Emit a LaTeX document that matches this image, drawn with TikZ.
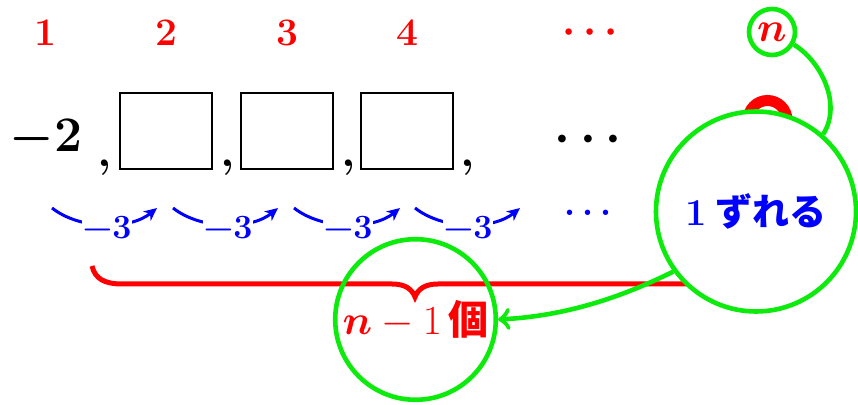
\documentclass[tikz,border=0pt]{standalone}
\usepackage{bm}
\usepackage{fontspec}
\newfontfamily\cjk{Noto Sans CJK JP}
\usetikzlibrary{arrows.meta}
\definecolor{grn}{RGB}{12,235,12}
\newcommand{\myfs}[1]{\fontsize{#1}{#1}\selectfont}
\begin{document}
\begin{tikzpicture}[x=0.5pt,y=-0.5pt,
  idx/.style={text=red,font=\myfs{19.5}\bfseries\boldmath},
  term/.style={font=\myfs{23}\bfseries\boldmath},
  cell/.style={draw,line width=1pt,minimum width=46pt,minimum height=38pt,inner sep=0pt},
  diff/.style={text=blue,font=\myfs{17}\bfseries,fill=white,inner sep=0.5pt},
  hop/.style={blue,line width=1.5pt,-{Stealth[length=6.5pt,width=6pt,inset=2pt]}},
  ring/.style={circle,draw=grn,line width=2.3pt,inner sep=0pt},
]
\useasboundingbox (0,0) rectangle (858,405);
% indices
\node[idx] (i1) at (45,33) {1};
\node[idx] (i2) at (166,33) {2};
\node[idx] (i3) at (287,33) {3};
\node[idx] (i4) at (407,33) {4};
\node[idx,anchor=base,font=\myfs{20}\bfseries\boldmath] (idots) at (590,43) {$\cdots$};
\node[ring,minimum size=23pt,text=red,font=\myfs{20}\boldmath] (nn) at (772,32) {$n$};
% terms
\node[term] (t1) at (46,139) {$-2$};
\node[term,anchor=base] (c1) at (105,167) {,};
\node[cell] (b1) at (166,131) {};
\node[term,anchor=base] (c2) at (228,167) {,};
\node[cell] (b2) at (287,131) {};
\node[term,anchor=base] (c3) at (349,167) {,};
\node[cell] (b3) at (407,131) {};
\node[term,anchor=base] (c4) at (468,167) {,};
\node[term,anchor=base,font=\myfs{30}\bfseries\boldmath] (tdots) at (588,152) {$\cdots$};
% differences
\coordinate (s1) at (52,208); \coordinate (e1) at (157,208);
\coordinate (s2) at (173,208); \coordinate (e2) at (278,208);
\coordinate (s3) at (294,208); \coordinate (e3) at (400,208);
\coordinate (s4) at (415,208); \coordinate (e4) at (520,208);
\draw[hop] (s1) .. controls (80,230) and (130,230) .. (e1);
\draw[hop] (s2) .. controls (201,230) and (251,230) .. (e2);
\draw[hop] (s3) .. controls (322,230) and (373,230) .. (e3);
\draw[hop] (s4) .. controls (443,230) and (493,230) .. (e4);
\node[diff] (d1) at (107,228) {−3};
\node[diff] (d2) at (228,228) {−3};
\node[diff] (d3) at (348,228) {−3};
\node[diff] (d4) at (468,228) {−3};
\node[text=blue,font=\myfs{17}\bfseries\boldmath,anchor=base] (bdots) at (588,222) {$\cdots$};
% brace
\draw[red,line width=2.5pt] (92,266) .. controls (95,279) and (105,284) .. (122,284) -- (392,284)
  .. controls (405,284) and (412,289) .. (415,297) .. controls (418,289) and (425,284) .. (438,284)
  -- (708,284) .. controls (725,284) and (735,279) .. (738,266);
\node[ring,minimum size=80.3pt,text=red,font=\myfs{20}] (cnt) at (415.5,319.5) {$\bm{n}-1$\,{\cjk\bfseries 個}};
% hidden n-th term
\draw[red,line width=5.5pt] (767.5,120) circle[radius=19.5];
\node[ring,minimum size=100pt,fill=white,text=blue,font=\myfs{18.5}] (shift) at (756,211.5) {{\myfs{19}\bfseries 1}\hspace{4pt}{\cjk\bfseries ずれる}};
% connectors
\draw[grn,line width=2.3pt] (nn.-30) .. controls (822,62) and (842,105) .. (shift.49);
\draw[grn,line width=2.3pt,-{Classical TikZ Rightarrow[length=6pt,width=11pt]}] (shift.216) .. controls (620,298) and (565,316) .. (cnt.east);
\end{tikzpicture}
\end{document}
